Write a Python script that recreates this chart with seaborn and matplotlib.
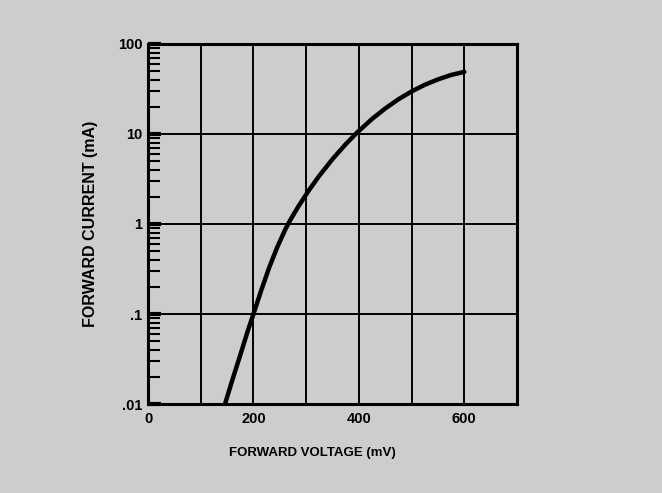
import pandas as pd
import matplotlib.pyplot as plt
import seaborn as sns
from matplotlib.ticker import LogLocator, NullFormatter

# datos (mV, mA)
voltaje = [146, 160, 175, 190, 200, 215, 230, 245, 260, 270, 285, 305, 325, 350,
           375, 396, 425, 450, 475, 500, 525, 550, 575, 600]
corriente = [0.010, 0.0185, 0.035, 0.067, 0.10, 0.185, 0.33, 0.55, 0.86, 1.11, 1.56, 2.36,
             3.44, 5.26, 7.7, 10.3, 14.7, 19.2, 24.3, 29.7, 35.2, 40.4, 45.3, 49.0]
x_ticks = [0, 100, 200, 300, 400, 500, 600, 700]
x_labels = ['0', '', '200', '', '400', '', '600', '']
y_ticks = [0.01, 0.1, 1, 10, 100]
y_labels = ['.01', '.1', '1', '10', '100']

df = pd.DataFrame({'voltaje': voltaje, 'corriente': corriente})

sns.set_theme(style='white')
plt.rcParams['font.family'] = ['Liberation Sans', 'DejaVu Sans']
plt.rcParams['text.color'] = 'black'
plt.rcParams['axes.labelcolor'] = 'black'
plt.rcParams['xtick.color'] = 'black'
plt.rcParams['ytick.color'] = 'black'
fondo = '#cdcdcd'

fig = plt.figure(figsize=(6.62, 4.93), dpi=100, facecolor=fondo)
ax = fig.add_axes([0.2236, 0.1805, 0.5574, 0.7303])
ax.set_facecolor(fondo)

sns.lineplot(data=df, x='voltaje', y='corriente', color='black', linewidth=3.2, ax=ax)

ax.set_yscale('log')
ax.set_xlim(0, 700)
ax.set_ylim(0.01, 100)

ax.set_xticks(x_ticks)
ax.set_xticklabels(x_labels, fontsize=10.5, fontweight='bold')
ax.set_yticks(y_ticks)
ax.set_yticklabels(y_labels, fontsize=10.5, fontweight='bold')
ax.yaxis.set_minor_locator(LogLocator(base=10, subs=range(2, 10), numticks=20))
ax.yaxis.set_minor_formatter(NullFormatter())

ax.grid(True, which='major', color='black', linewidth=1.4)
ax.tick_params(axis='x', which='both', bottom=False, length=0, pad=6, labelcolor='black')
ax.tick_params(axis='y', which='major', left=True, direction='in', length=9, width=3,
               color='black', labelcolor='black', pad=4)
ax.tick_params(axis='y', which='minor', left=True, direction='in', length=8.5, width=1.5, color='black')

for s in ax.spines.values():
    s.set_color('black')
    s.set_linewidth(2.2)

ax.set_xlabel('FORWARD VOLTAGE (mV)', fontsize=9.5, fontweight='bold', color='black')
ax.xaxis.set_label_coords(0.445, -0.12)
ax.set_ylabel('FORWARD CURRENT (mA)', fontsize=11.5, fontweight='bold', color='black')
ax.yaxis.set_label_coords(-0.135, 0.5)

fig.savefig('out.png', dpi=100, facecolor=fondo)
